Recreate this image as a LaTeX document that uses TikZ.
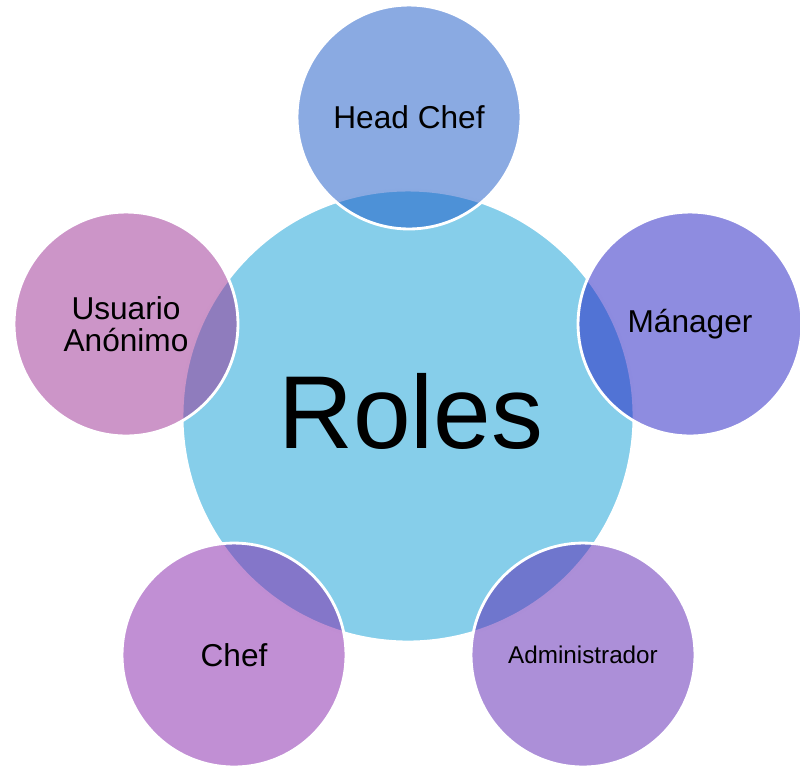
\documentclass[tikz,border=0pt]{standalone}
\usepackage{fontspec}
\setmainfont{Liberation Sans}
\usetikzlibrary{positioning}

\definecolor{rolesBlue}{RGB}{134,206,234}
\definecolor{headChefColor}{RGB}{21,85,197}
\definecolor{managerColor}{RGB}{29,25,193}
\definecolor{adminColor}{RGB}{89,31,177}
\definecolor{chefColor}{RGB}{131,31,169}
\definecolor{usuarioColor}{RGB}{153,43,145}

\begin{document}
\begin{tikzpicture}[x=0.02cm, y=-0.02cm,
    hub/.style={circle, fill=rolesBlue, draw=white, line width=1.6pt,
        minimum size=9.04cm, inner sep=0pt},
    rol/.style={circle, fill opacity=0.5, text opacity=1, draw=white,
        draw opacity=1, line width=1.6pt, minimum size=4.48cm, inner sep=0pt,
        align=center, font=\fontsize{18}{18.2}\selectfont}]
        \useasboundingbox (0,0) rectangle (800,769);

        % centre
        \node[hub] (Roles) at (408,416) {};
        \node[font=\fontsize{59}{60}\selectfont] (RolesText) at (411,411) {Roles};

        % roles round it
        \node[rol, fill=headChefColor] (HeadChef) at (409,117) {Head Chef};
        \node[rol, fill=managerColor] (Manager) at (690,324) {Mánager};
        \node[rol, fill=adminColor, font=\fontsize{13.8}{15}\selectfont]
            (Admin) at (583,655) {Administrador};
        \node[rol, fill=chefColor] (Chef) at (234,655) {Chef};
        \node[rol, fill=usuarioColor] (Usuario) at (126,324) {Usuario\\Anónimo};
    \end{tikzpicture}
\end{document}
